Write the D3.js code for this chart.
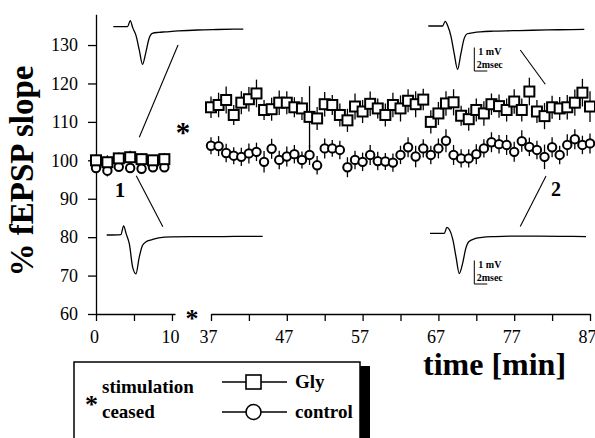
<!DOCTYPE html>
<html>
<head>
<meta charset="utf-8">
<script src="https://cdn.jsdelivr.net/npm/d3@7"></script>
<style>
  body { margin: 0; background: #fff; }
  svg { display: block; font-family: "Liberation Serif", "Times New Roman", serif; }
</style>
</head>
<body>
<div class="main"></div>
<script>
// baseline block (before stimulation stop), minutes
var preMin = [0, 1.5, 3, 4.5, 6, 7.5, 9];
var glyPre = [100, 99.5, 100.5, 100.8, 100.3, 100, 100.3];
var glyPreErr = [1.5, 1.8, 1.5, 1.7, 1.5, 1.4, 1.6];
var ctrlPre = [98, 97.3, 98.3, 98, 97.8, 98.2, 98.2];
var ctrlPreErr = [1.2, 1.5, 1.3, 1.2, 1.4, 1.2, 1.1];

// after stimulation resumed, minutes
var postMin = [37, 38, 39, 40, 41, 42, 43, 44, 45, 46,
               47, 48, 49, 50, 51, 52, 53, 54, 55, 56,
               57, 58, 59, 60, 61, 62, 63, 64, 65, 66,
               67, 68, 69, 70, 71, 72, 73, 74, 75, 76,
               77, 78, 79, 80, 81, 82, 83, 84, 85, 86, 87];
var glyPost = [113.8, 114.4, 115.7, 111.8, 115.0, 115.9, 117.4, 113.1, 113.3, 115.0,
               115.0, 113.8, 113.5, 111.3, 110.9, 114.6, 114.4, 111.8, 110.4, 114.0,
               112.7, 114.7, 113.5, 111.8, 114.4, 113.5, 115.5, 114.6, 115.8, 110.0,
               112.2, 114.8, 115.1, 111.6, 110.7, 113.1, 112.2, 114.6, 114.1, 113.1,
               115.3, 113.1, 117.9, 112.7, 111.5, 113.8, 113.5, 113.8, 115.0, 117.6, 114.0];
var glyPostErr = [2.8, 3.2, 3.5, 2.6, 3.0, 3.2, 3.6, 2.6, 3.0, 3.2,
                  3.0, 2.6, 3.0, 8.0, 3.0, 3.2, 2.6, 3.0, 3.0, 3.4,
                  3.0, 3.2, 2.6, 3.0, 3.2, 3.4, 3.0, 3.4, 2.8, 3.0,
                  3.0, 3.2, 3.4, 2.6, 3.0, 3.0, 3.2, 2.8, 3.0, 3.0,
                  3.2, 3.0, 3.6, 3.0, 3.4, 3.0, 3.0, 3.2, 3.4, 3.6, 4.0];
var ctrlPost = [103.8, 103.7, 101.9, 101.2, 100.9, 101.8, 102.2, 99.6, 103.0, 100.1,
                101.0, 101.6, 100.1, 101.4, 98.7, 103.1, 103.1, 102.7, 98.2, 100.1,
                99.6, 101.4, 99.8, 99.7, 99.4, 101.4, 103.4, 101.0, 103.1, 101.4,
                103.1, 105.1, 101.4, 100.5, 100.5, 101.6, 103.1, 104.7, 104.2, 104.0,
                102.2, 105.0, 103.5, 102.7, 100.9, 103.4, 101.4, 104.0, 105.5, 104.0, 104.4];
var ctrlPostErr = [2.2, 2.6, 2.4, 2.2, 2.4, 2.6, 2.4, 2.8, 2.6, 2.4,
                   2.6, 2.4, 2.2, 2.6, 2.4, 2.6, 2.2, 2.4, 2.6, 2.4,
                   2.4, 2.6, 2.4, 2.2, 2.4, 2.4, 2.6, 2.8, 2.4, 2.4,
                   2.6, 3.0, 2.6, 2.4, 2.4, 2.6, 2.4, 2.6, 2.4, 2.6,
                   2.6, 2.8, 2.4, 2.4, 3.2, 2.6, 2.4, 2.8, 2.6, 2.4, 2.6];

var yTicks = [60, 70, 80, 90, 100, 110, 120, 130];
var xTicksPre = [0, 5, 10];
var xLabelsPre = [0, 10];
var xTicksPost = [37, 42, 47, 52, 57, 62, 67, 72, 77, 82, 87];
var xLabelsPost = [37, 47, 57, 67, 77, 87];

// example fEPSP traces: time in ms, voltage in mV relative to start
var traceMs = [0, 2.2, 2.6, 3.0, 3.5, 4.0, 4.5, 5.0, 5.5, 6.0, 7, 8, 10, 13, 16, 20, 24];
var traceGly1 = [0, 0, 0.26, -0.05, -0.38, -1.0, -1.6, -1.1, -0.5, -0.28, -0.24, -0.22, -0.18, -0.14, -0.12, -0.1, NaN];
var traceGly2 = [0, 0, 0.2, 0.0, -0.45, -1.2, -1.84, -1.2, -0.55, -0.33, -0.28, -0.25, -0.22, -0.2, -0.18, -0.16, -0.14];
var traceCtrl1 = [0, 0.02, 0.39, 0.05, -0.4, -1.38, -1.65, -0.95, -0.45, -0.3, -0.2, -0.12, -0.08, -0.07, -0.07, -0.06, -0.06];
var traceCtrl2 = [0, 0, 0.25, 0.15, -0.25, -1.0, -1.71, -1.3, -0.65, -0.35, -0.22, -0.17, -0.14, -0.12, -0.12, -0.13, -0.14];

var W = 595, H = 438;
var font = '"Liberation Serif", "Times New Roman", serif';

var svg = d3.select(".main")
  .append("svg")
    .attr("width", W)
    .attr("height", H);

var y = d3.scaleLinear().domain([60, 138]).range([314, 14.3]);
var xPre = d3.scaleLinear().domain([0, 10.4]).range([96, 175]);
var xPost = d3.scaleLinear().domain([37, 87]).range([211, 590]);

function styleAxis(g) {
  g.attr("font-family", null);
  g.select(".domain").attr("stroke", "black").attr("stroke-width", 1.3);
  g.selectAll(".tick line").attr("stroke", "black").attr("stroke-width", 1.3);
  g.selectAll(".tick text")
    .attr("fill", "black")
    .style("font-family", font)
    .style("font-size", "18px");
}

// axes
svg.append("g")
    .attr("transform", "translate(96,0)")
    .call(d3.axisLeft(y).tickValues(yTicks).tickSize(8).tickPadding(10).tickSizeOuter(0))
    .call(styleAxis);

svg.append("g")
    .attr("transform", "translate(0,314)")
    .call(d3.axisBottom(xPre).tickValues(xTicksPre).tickSize(7).tickPadding(9).tickSizeOuter(0)
      .tickFormat(function(d) { return xLabelsPre.indexOf(d) >= 0 ? d : ""; }))
    .call(styleAxis)
    .selectAll(".tick text").attr("dx", -2);

svg.append("g")
    .attr("transform", "translate(0,314)")
    .call(d3.axisBottom(xPost).tickValues(xTicksPost).tickSize(7).tickPadding(9).tickSizeOuter(0)
      .tickFormat(function(d) { return xLabelsPost.indexOf(d) >= 0 ? d : ""; }))
    .call(styleAxis)
    .selectAll(".tick text").attr("dx", -3);

// axis titles
svg.append("text")
    .attr("transform", "translate(33,171) rotate(-90)")
    .attr("text-anchor", "middle")
    .style("font-family", font)
    .style("font-weight", "bold")
    .style("font-size", "33px")
    .text("% fEPSP slope");

svg.append("text")
    .attr("x", 423)
    .attr("y", 375)
    .style("font-family", font)
    .style("font-weight", "bold")
    .style("font-size", "32px")
    .text("time [min]");

// data
function series(xs, sc, vals, errs) {
  return xs.map(function(m, i) { return { x: sc(m), v: vals[i], e: errs[i] }; });
}
var gly = series(preMin, xPre, glyPre, glyPreErr).concat(series(postMin, xPost, glyPost, glyPostErr));
var ctrl = series(preMin, xPre, ctrlPre, ctrlPreErr).concat(series(postMin, xPost, ctrlPost, ctrlPostErr));

var marks = svg.append("g");

marks.selectAll(".ebar")
  .data(gly.concat(ctrl))
  .enter().append("line")
    .attr("x1", function(d) { return d.x; })
    .attr("x2", function(d) { return d.x; })
    .attr("y1", function(d) { return y(d.v - d.e); })
    .attr("y2", function(d) { return y(d.v + d.e); })
    .attr("stroke", "black")
    .attr("stroke-width", 1.3);

marks.selectAll(".ctrl")
  .data(ctrl)
  .enter().append("circle")
    .attr("cx", function(d) { return d.x; })
    .attr("cy", function(d) { return y(d.v); })
    .attr("r", 4.2)
    .attr("fill", "white")
    .attr("stroke", "black")
    .attr("stroke-width", 2);

marks.selectAll(".gly")
  .data(gly)
  .enter().append("rect")
    .attr("x", function(d) { return d.x - 5; })
    .attr("y", function(d) { return y(d.v) - 5; })
    .attr("width", 10)
    .attr("height", 10)
    .attr("fill", "white")
    .attr("stroke", "black")
    .attr("stroke-width", 2);

// traces
var tx = d3.scaleLinear().domain([0, 1]).range([0, 6.5]);
var tv = d3.scaleLinear().domain([0, 1]).range([0, -23.5]);
var traceLine = d3.line()
  .defined(function(d) { return !isNaN(d[1]); })
  .x(function(d) { return tx(d[0]); })
  .y(function(d) { return tv(d[1]); })
  .curve(d3.curveMonotoneX);

var insets = [
  { v: traceGly1, ox: 113.3, oy: 26.7, bar: false },
  { v: traceGly2, ox: 428.3, oy: 26, bar: true, bx: 474.3, by: 71 },
  { v: traceCtrl1, ox: 106.7, oy: 235, bar: false },
  { v: traceCtrl2, ox: 430, oy: 233.3, bar: true, bx: 474.3, by: 284 }
];

insets.forEach(function(ins) {
  var g = svg.append("g").attr("transform", "translate(" + ins.ox + "," + ins.oy + ")");
  g.append("path")
    .attr("d", traceLine(traceMs.map(function(t, i) { return [t, ins.v[i]]; })))
    .attr("fill", "none")
    .attr("stroke", "black")
    .attr("stroke-width", 1.3);

  if (ins.bar) {
    var b = svg.append("g").attr("transform", "translate(" + ins.bx + "," + ins.by + ")");
    b.append("path")
      .attr("d", "M0," + tv(1) + "V0H" + tx(2))
      .attr("fill", "none")
      .attr("stroke", "black")
      .attr("stroke-width", 1);
    b.append("text")
      .attr("x", 4).attr("y", -16)
      .style("font-family", font).style("font-weight", "bold").style("font-size", "10px")
      .text("1 mV");
    b.append("text")
      .attr("x", 2.4).attr("y", -3)
      .style("font-family", font).style("font-weight", "bold").style("font-size", "10px")
      .text("2msec");
  }
});

// pointer lines from data to traces
var pointers = [
  [xPre(5.7), y(106), xPre(10.8), y(130)],
  [xPre(5.3), y(96), xPre(8.8), y(82.7)],
  [xPost(77.8), y(128.7), xPost(81.1), y(119.8)],
  [xPost(77.8), y(82.8), xPost(81.2), y(95.9)]
];
svg.selectAll(".ptr")
  .data(pointers)
  .enter().append("line")
    .attr("x1", function(d) { return d[0]; })
    .attr("y1", function(d) { return d[1]; })
    .attr("x2", function(d) { return d[2]; })
    .attr("y2", function(d) { return d[3]; })
    .attr("stroke", "black")
    .attr("stroke-width", 1.1);

function label(x, yy, txt, size) {
  svg.append("text")
    .attr("x", x).attr("y", yy)
    .attr("text-anchor", "middle")
    .style("font-family", font)
    .style("font-weight", "bold")
    .style("font-size", size + "px")
    .text(txt);
}
label(120, 197, "1", 21);
label(556, 196, "2", 20);
label(183, 142, "*", 29);
label(192, 327, "*", 26);

// legend
svg.append("rect")
    .attr("x", 74).attr("y", 362)
    .attr("width", 286).attr("height", 90)
    .attr("fill", "none")
    .attr("stroke", "black")
    .attr("stroke-width", 1.5);
svg.append("rect")
    .attr("x", 360).attr("y", 366)
    .attr("width", 10).attr("height", 80)
    .attr("fill", "black");

label(91.5, 413, "*", 26);
svg.append("text")
    .attr("x", 102).attr("y", 393)
    .style("font-family", font).style("font-weight", "bold").style("font-size", "19px")
    .text("stimulation");
svg.append("text")
    .attr("x", 102).attr("y", 418)
    .style("font-family", font).style("font-weight", "bold").style("font-size", "19px")
    .text("ceased");

var leg = svg.append("g");
[[382, "Gly", "square"], [412, "control", "circle"]].forEach(function(row) {
  leg.append("line")
    .attr("x1", 222).attr("x2", 287)
    .attr("y1", row[0]).attr("y2", row[0])
    .attr("stroke", "black").attr("stroke-width", 1.3);
  if (row[2] === "square") {
    leg.append("rect")
      .attr("x", 246).attr("y", row[0] - 7)
      .attr("width", 15).attr("height", 14)
      .attr("fill", "white").attr("stroke", "black").attr("stroke-width", 1.6);
  } else {
    leg.append("circle")
      .attr("cx", 253.5).attr("cy", row[0])
      .attr("r", 7.5)
      .attr("fill", "white").attr("stroke", "black").attr("stroke-width", 1.6);
  }
  leg.append("text")
    .attr("x", 295).attr("y", row[0] + 5.5)
    .style("font-family", font).style("font-weight", "bold").style("font-size", "19px")
    .text(row[1]);
});
</script>
</body>
</html>
